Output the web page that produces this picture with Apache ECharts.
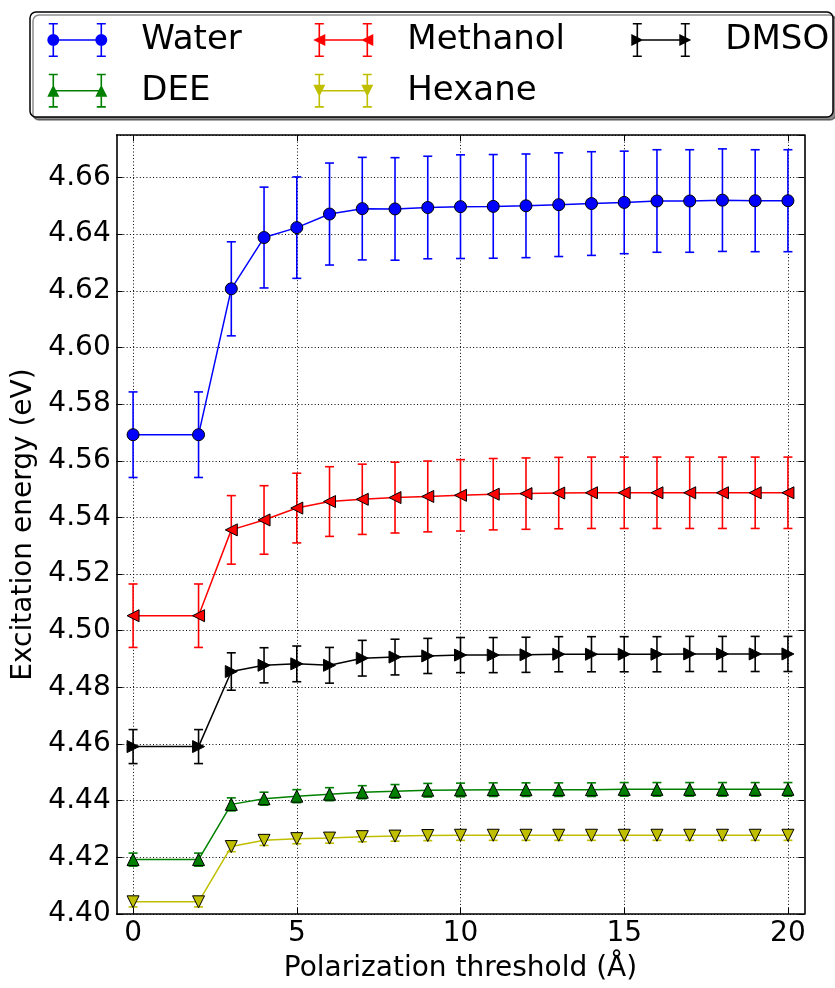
<!DOCTYPE html>
<html><head><meta charset="utf-8">
<script src="https://cdn.jsdelivr.net/npm/echarts@6/dist/echarts.min.js"></script>
<style>html,body{margin:0;padding:0;background:#fff}#c{width:835px;height:988px}</style>
</head><body><div id="c"></div>
<script>
const thresholds = [0,2,3,4,5,6,7,8,9,10,11,12,13,14,15,16,17,18,19,20];
const xTickValues = [0,5,10,15,20];

const water    = [4.5692,4.5692,4.6207,4.6388,4.6423,4.6471,4.6490,4.6489,4.6494,4.6497,4.6498,4.6500,4.6504,4.6508,4.6512,4.6517,4.6517,4.6520,4.6518,4.6518];
const waterErr = [0.0151,0.0151,0.0166,0.0178,0.0179,0.0180,0.0181,0.0181,0.0181,0.0183,0.0183,0.0183,0.0183,0.0183,0.0181,0.0181,0.0181,0.0181,0.0180,0.0180];

const methanol    = [4.5053,4.5053,4.5356,4.5391,4.5433,4.5456,4.5464,4.5470,4.5474,4.5478,4.5482,4.5484,4.5486,4.5487,4.5487,4.5487,4.5487,4.5487,4.5487,4.5487];
const methanolErr = [0.0112,0.0112,0.0121,0.0121,0.0123,0.0123,0.0124,0.0125,0.0125,0.0126,0.0126,0.0126,0.0126,0.0126,0.0126,0.0126,0.0126,0.0126,0.0126,0.0126];

const dmso    = [4.4591,4.4591,4.4856,4.4878,4.4883,4.4878,4.4903,4.4907,4.4911,4.4914,4.4914,4.4915,4.4917,4.4917,4.4917,4.4917,4.4918,4.4918,4.4918,4.4918];
const dmsoErr = [0.0060,0.0060,0.0066,0.0062,0.0063,0.0063,0.0063,0.0063,0.0062,0.0062,0.0062,0.0062,0.0062,0.0062,0.0062,0.0062,0.0062,0.0062,0.0062,0.0062];

const dee    = [4.4192,4.4192,4.4387,4.4407,4.4416,4.4423,4.4430,4.4433,4.4437,4.4438,4.4439,4.4439,4.4439,4.4439,4.4440,4.4440,4.4440,4.4440,4.4440,4.4440];
const deeErr = [0.0023,0.0023,0.0023,0.0023,0.0023,0.0023,0.0023,0.0024,0.0024,0.0024,0.0024,0.0024,0.0024,0.0024,0.0024,0.0024,0.0024,0.0024,0.0024,0.0024];

const hexane    = [4.4043,4.4043,4.4238,4.4260,4.4266,4.4268,4.4273,4.4275,4.4277,4.4278,4.4278,4.4278,4.4278,4.4278,4.4278,4.4278,4.4278,4.4278,4.4278,4.4278];
const hexaneErr = [0.0018,0.0018,0.0018,0.0018,0.0018,0.0018,0.0018,0.0018,0.0018,0.0018,0.0018,0.0018,0.0018,0.0018,0.0018,0.0018,0.0018,0.0018,0.0018,0.0018];

const FONT = 'DejaVu Sans';

function markerPath(m, cx, cy, r) {
  if (m === 'circle') return `M${cx-r} ${cy}A${r} ${r} 0 1 1 ${cx+r} ${cy}A${r} ${r} 0 1 1 ${cx-r} ${cy}Z`;
  if (m === 'up') return `M${cx} ${cy-r}L${cx+r} ${cy+r}L${cx-r} ${cy+r}Z`;
  if (m === 'down') return `M${cx-r} ${cy-r}L${cx+r} ${cy-r}L${cx} ${cy+r}Z`;
  if (m === 'left') return `M${cx-r} ${cy}L${cx+r} ${cy-r}L${cx+r} ${cy+r}Z`;
  return `M${cx+r} ${cy}L${cx-r} ${cy+r}L${cx-r} ${cy-r}Z`;
}
function iconPath(m) {
  const rect = (x1,y1,x2,y2) => `M${x1} ${y1}H${x2}V${y2}H${x1}Z`;
  let p = '';
  [6,54].forEach(cx => {
    p += rect(cx-0.8,0,cx+0.8,34);
    p += rect(cx-4.5,0,cx+4.5,1.6);
    p += rect(cx-4.5,32.4,cx+4.5,34);
  });
  p += rect(6,16.2,54,17.8);
  [6,54].forEach(cx => { p += markerPath(m, cx, 17, 6); });
  return 'path://' + p;
}

function lineSeries(name, vals, color, rotate, symbol) {
  return {
    type: 'line', name,
    data: thresholds.map((x,i) => [x, vals[i]]),
    symbol: symbol || 'triangle', symbolSize: 12, symbolRotate: rotate || 0,
    lineStyle: {color, width: 1.5},
    itemStyle: {color, borderColor: '#000', borderWidth: 1},
    emphasis: {disabled: true}, z: 3, animation: false
  };
}
function errSeries(name, vals, errs, color) {
  return {
    type: 'custom', name: name + ' err',
    data: thresholds.map((x,i) => [x, vals[i]-errs[i], vals[i]+errs[i]]),
    encode: {x: 0, y: [1,2]},
    z: 2, animation: false, silent: true,
    renderItem: function(params, api) {
      const x = api.value(0);
      const pHi = api.coord([x, api.value(2)]);
      const pLo = api.coord([x, api.value(1)]);
      const cw = 4.5;
      const style = {stroke: color, lineWidth: 1.6, fill: null};
      return {type: 'group', children: [
        {type:'line', shape:{x1:pHi[0], y1:pHi[1], x2:pLo[0], y2:pLo[1]}, style},
        {type:'line', shape:{x1:pHi[0]-cw, y1:pHi[1], x2:pHi[0]+cw, y2:pHi[1]}, style},
        {type:'line', shape:{x1:pLo[0]-cw, y1:pLo[1], x2:pLo[0]+cw, y2:pLo[1]}, style}
      ]};
    }
  };
}

const icons = {Water: iconPath('circle'), DEE: iconPath('up'), Methanol: iconPath('left'), Hexane: iconPath('down'), DMSO: iconPath('right')};
function legendCol(names, left) {
  return {
    orient: 'vertical', left: left, top: 23, padding: 0,
    itemWidth: 60, itemHeight: 34, itemGap: 16.7,
    data: names.map(n => ({name: n, icon: icons[n]})),
    itemStyle: {borderWidth: 0},
    textStyle: {fontFamily: FONT, fontSize: 34, color: '#000', lineHeight: 34, padding: [0,0,0,29]},
    selectedMode: false
  };
}

const axisLineStyle = {show: true, onZero: false, lineStyle: {color: '#000', width: 1.6}};
const tickStyle = {color: '#000', width: 1};

const chart = echarts.init(document.getElementById('c'), null, {renderer: 'canvas'});
chart.setOption({
  animation: false,
  backgroundColor: '#fff',
  grid: {left: 116.7, right: 30.7, top: 135, bottom: 69, containLabel: false},
  graphic: [{
    type: 'rect', z: 1, silent: true,
    shape: {x: 30, y: 12, width: 803, height: 105, r: 6},
    style: {fill: '#fff', stroke: '#000', lineWidth: 1.5, shadowColor: 'rgba(0,0,0,0.45)', shadowOffsetX: 3, shadowOffsetY: 3, shadowBlur: 0}
  }],
  legend: [
    legendCol(['Water','DEE'], 47.3),
    legendCol(['Methanol','Hexane'], 313.3),
    legendCol(['DMSO'], 631.3)
  ],
  xAxis: [
    {
      type: 'value', min: -0.5, max: 20.5, position: 'bottom',
      name: 'Polarization threshold (Å)', nameLocation: 'middle', nameGap: 41,
      nameTextStyle: {fontFamily: FONT, fontSize: 28, color: '#000'},
      axisLine: axisLineStyle,
      axisTick: {show: true, inside: true, length: 6, customValues: xTickValues, lineStyle: tickStyle},
      axisLabel: {customValues: xTickValues, fontFamily: FONT, fontSize: 28, color: '#000', margin: 6},
      splitLine: {show: true, lineStyle: {color: '#000', width: 1, type: [1, 2.3]}}
    },
    {
      type: 'value', min: -0.5, max: 20.5, position: 'top',
      axisLine: axisLineStyle,
      axisTick: {show: true, inside: true, length: 6, customValues: xTickValues, lineStyle: tickStyle},
      axisLabel: {show: false}, splitLine: {show: false}
    }
  ],
  yAxis: [
    {
      type: 'value', min: 4.40, max: 4.675, interval: 0.02, position: 'left',
      name: 'Excitation energy (eV)', nameLocation: 'middle', nameGap: 73,
      nameTextStyle: {fontFamily: FONT, fontSize: 28, color: '#000'},
      axisLine: axisLineStyle,
      axisTick: {show: true, inside: true, length: 6, lineStyle: tickStyle},
      axisLabel: {fontFamily: FONT, fontSize: 28, color: '#000', margin: 6, showMaxLabel: false, formatter: v => v.toFixed(2)},
      splitLine: {show: true, lineStyle: {color: '#000', width: 1, type: [1, 2.3]}}
    },
    {
      type: 'value', min: 4.40, max: 4.675, interval: 0.02, position: 'right',
      axisLine: axisLineStyle,
      axisTick: {show: true, inside: true, length: 6, lineStyle: tickStyle},
      axisLabel: {show: false}, splitLine: {show: false}
    }
  ],
  series: [
    errSeries('Water', water, waterErr, '#0000ff'),
    errSeries('DEE', dee, deeErr, '#008000'),
    errSeries('Methanol', methanol, methanolErr, '#ff0000'),
    errSeries('Hexane', hexane, hexaneErr, '#bfbf00'),
    errSeries('DMSO', dmso, dmsoErr, '#000000'),
    lineSeries('Water', water, '#0000ff', 0, 'circle'),
    lineSeries('DEE', dee, '#008000', 0),
    lineSeries('Methanol', methanol, '#ff0000', 90),
    lineSeries('Hexane', hexane, '#bfbf00', 180),
    lineSeries('DMSO', dmso, '#000000', -90)
  ]
});
</script>
</body></html>
